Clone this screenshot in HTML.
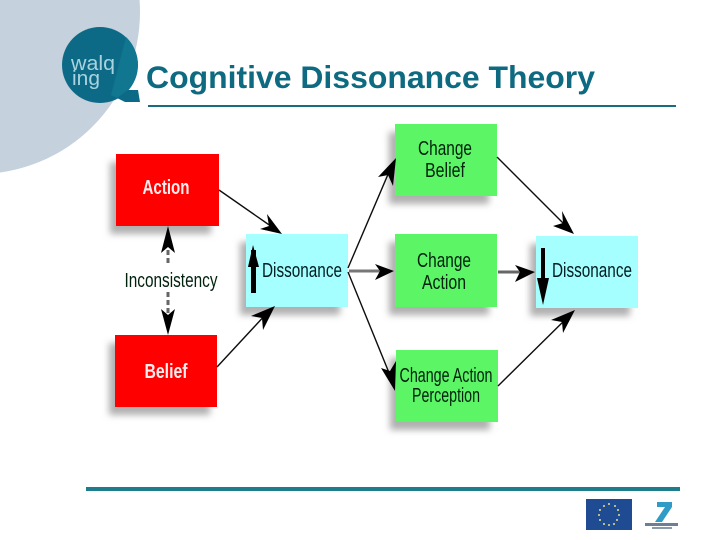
<!DOCTYPE html>
<html><head><meta charset="utf-8"><style>
html,body{margin:0;padding:0;background:#fff}
svg{display:block}
text{font-family:"Liberation Sans",sans-serif}
.l{font-size:20px;text-anchor:middle;fill:#04200e}
.d{font-size:20px;text-anchor:middle;fill:#021e22}
.w{font-size:20px;font-weight:bold;text-anchor:middle;fill:#ffecec}
</style></head><body>
<svg width="720" height="540" viewBox="0 0 720 540" xmlns="http://www.w3.org/2000/svg">
<defs>
<filter id="b" x="-20%" y="-20%" width="140%" height="140%"><feGaussianBlur stdDeviation="3.5"/></filter>
<filter id="s" x="-5%" y="-5%" width="110%" height="110%"><feGaussianBlur stdDeviation="0.3"/></filter>
<filter id="t" x="-5%" y="-20%" width="110%" height="140%"><feGaussianBlur stdDeviation="0.25"/></filter>
</defs>
<rect width="720" height="540" fill="#fff"/>
<circle cx="-22" cy="12" r="162" fill="#c5d1dc"/>
<circle cx="100" cy="65" r="38" fill="#0d6a87"/>
<path d="M117 98 L128 90 L138 90 L140 102 L125 102Z" fill="#0d6a87"/>
<path d="M126 37 A38 38 0 0 1 128 90 L117 98 L111 95Z" fill="#11768f"/>
<g filter="url(#t)">
<text x="71" y="70" font-size="20" fill="#a9d3df" textLength="44" lengthAdjust="spacingAndGlyphs">walq</text>
<text x="72" y="85" font-size="20" fill="#a9d3df" textLength="28" lengthAdjust="spacingAndGlyphs">ing</text>
<text x="146" y="88" font-size="31.5" font-weight="bold" fill="#0f6a80" textLength="449" lengthAdjust="spacingAndGlyphs">Cognitive Dissonance Theory</text>
</g>
<rect x="148" y="105" width="528" height="2" fill="#186c7e"/>

<g filter="url(#b)" fill="#b0b0b0">
<rect x="110" y="162" width="101" height="72"/>
<rect x="109" y="343" width="101" height="72"/>
<rect x="240" y="242" width="100" height="73"/>
<rect x="389" y="132" width="100" height="72"/>
<rect x="389" y="242" width="100" height="73"/>
<rect x="390" y="358" width="100" height="72"/>
<rect x="530" y="244" width="100" height="72"/>
</g>
<g filter="url(#s)">
<rect x="116" y="154" width="103" height="72" fill="#ff0000"/>
<rect x="115" y="335" width="102" height="72" fill="#ff0000"/>
<rect x="246" y="234" width="102" height="73" fill="#a6ffff"/>
<rect x="395" y="124" width="102" height="72" fill="#5cf565"/>
<rect x="395" y="234" width="102" height="73" fill="#5cf565"/>
<rect x="396" y="350" width="102" height="72" fill="#5cf565"/>
<rect x="536" y="236" width="102" height="72" fill="#a6ffff"/>

<text class="w" x="166" y="194" textLength="47" lengthAdjust="spacingAndGlyphs">Action</text>
<text class="w" x="166" y="378" textLength="43" lengthAdjust="spacingAndGlyphs">Belief</text>
<text class="l" x="171" y="287" textLength="93" lengthAdjust="spacingAndGlyphs">Inconsistency</text>
<text class="d" x="302" y="277" textLength="80" lengthAdjust="spacingAndGlyphs">Dissonance</text>
<text class="d" x="592" y="277" textLength="80" lengthAdjust="spacingAndGlyphs">Dissonance</text>
<text class="l" x="445" y="155" textLength="54" lengthAdjust="spacingAndGlyphs">Change</text>
<text class="l" x="445" y="177" textLength="40" lengthAdjust="spacingAndGlyphs">Belief</text>
<text class="l" x="444" y="267" textLength="54" lengthAdjust="spacingAndGlyphs">Change</text>
<text class="l" x="444" y="289" textLength="44" lengthAdjust="spacingAndGlyphs">Action</text>
<text class="l" x="446" y="382" textLength="93" lengthAdjust="spacingAndGlyphs">Change Action</text>
<text class="l" x="446" y="402" textLength="68" lengthAdjust="spacingAndGlyphs">Perception</text>

<g stroke="#111" stroke-width="1.4" fill="none">
<line x1="219" y1="190" x2="275" y2="229"/>
<line x1="217" y1="367" x2="268" y2="312"/>
<line x1="348" y1="268" x2="392" y2="165"/>
<line x1="348" y1="272" x2="394" y2="385"/>
<line x1="497" y1="157" x2="570" y2="230"/>
<line x1="498" y1="386" x2="572" y2="313"/>
</g>
<line x1="349" y1="271" x2="385" y2="271" stroke="#777" stroke-width="3"/>
<line x1="498" y1="272" x2="525" y2="272" stroke="#666" stroke-width="3"/>
<line x1="168" y1="250" x2="168" y2="264" stroke="#666" stroke-width="3" stroke-dasharray="5 3"/>
<line x1="168" y1="292" x2="168" y2="315" stroke="#666" stroke-width="3" stroke-dasharray="5 3"/>
<g fill="#050505">
<path d="M282 234 L260 229 L269 226 L267 214Z"/>
<path d="M275 306 L263 330 L262 318 L251 316Z"/>
<path d="M396 158 L393 186 L388 175 L378 177Z"/>
<path d="M395 391 L381 368 L390 371 L396 361Z"/>
<path d="M394 271 L375 264 L380 271 L375 280Z"/>
<path d="M574 234 L553 226 L563 223 L562 211Z"/>
<path d="M575 310 L563 333 L562 322 L551 320Z"/>
<path d="M535 272 L515 265 L520 272 L515 282Z"/>
<path d="M168 226 L161 253 L168 247 L175 253Z"/>
<path d="M168 335 L161 309 L168 315 L175 309Z"/>
</g>
<rect x="251" y="250" width="5" height="43" fill="#050505"/>
<path d="M253 245 L248 267 L259 267Z" fill="#050505"/>
<rect x="541" y="248" width="4" height="40" fill="#050505"/>
<path d="M543 305 L537 278 L549 278Z" fill="#050505"/>
</g>

<rect x="86" y="487" width="594" height="4" fill="#1d7d8d"/>
<rect x="586" y="499" width="46" height="31" fill="#1f4b93"/>
<g fill="#e5e08a">
<circle cx="609" cy="504" r="1"/><circle cx="615" cy="506" r="1"/><circle cx="618" cy="510" r="1"/><circle cx="619" cy="515" r="1"/><circle cx="617" cy="520" r="1"/><circle cx="614" cy="524" r="1"/><circle cx="609" cy="525" r="1"/><circle cx="604" cy="524" r="1"/><circle cx="600" cy="520" r="1"/><circle cx="599" cy="515" r="1"/><circle cx="600" cy="510" r="1"/><circle cx="604" cy="506" r="1"/>
</g>
<path d="M657 502 L672 502 L672 507 L662 522 L655 522 L665 507 L657 507Z" fill="#2f9bc6"/>
<rect x="645" y="523" width="33" height="3" fill="#6d7f94"/>
<rect x="652" y="527" width="20" height="2" fill="#8a9aa8"/>
</svg>
</body></html>
